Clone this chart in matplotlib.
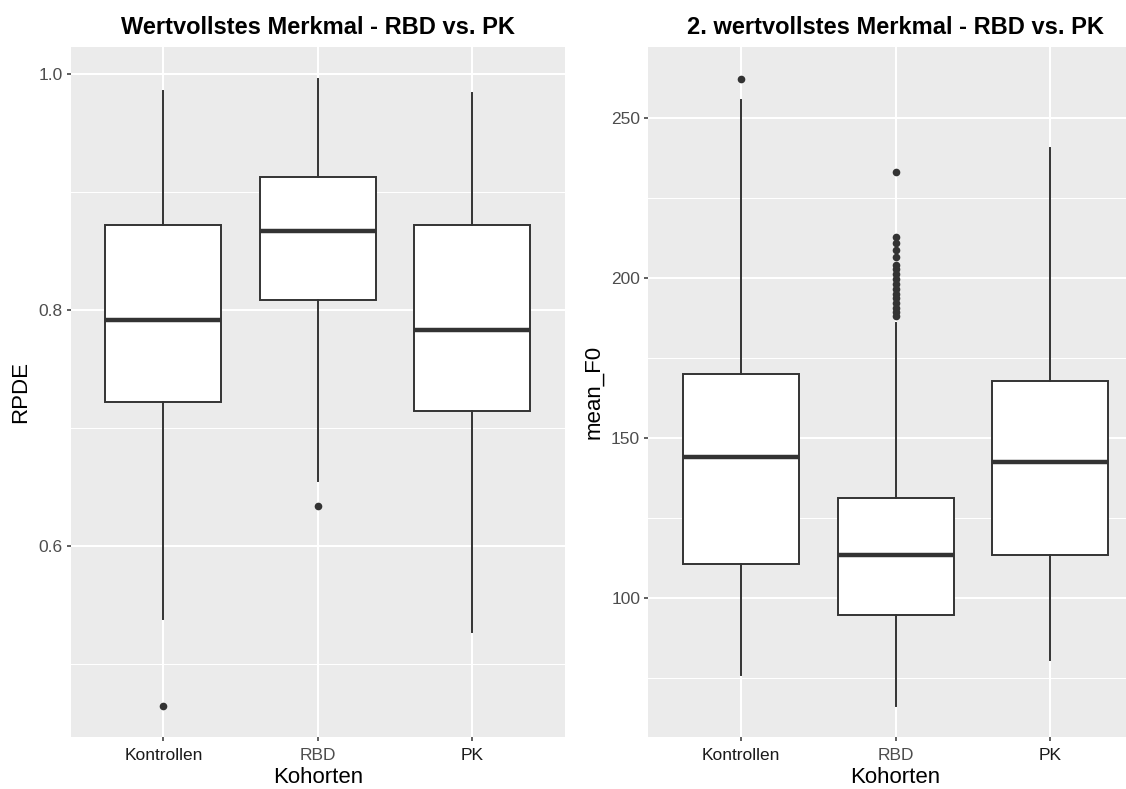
import matplotlib
matplotlib.use("Agg")
import matplotlib.pyplot as plt
from matplotlib.ticker import MultipleLocator

plt.rcParams["font.family"] = ["Liberation Sans", "DejaVu Sans"]

kohorten = ["Kontrollen", "RBD", "PK"]
kohorten_farbe = ["#1A1A1A", "#4D4D4D", "#1A1A1A"]

# RPDE je Kohorte (Boxplot-Kennwerte)
rpde_whislo = [0.538, 0.655, 0.527]
rpde_q1 = [0.722, 0.809, 0.715]
rpde_med = [0.792, 0.867, 0.783]
rpde_q3 = [0.872, 0.913, 0.872]
rpde_whishi = [0.986, 0.996, 0.984]
rpde_fliers = [[0.465], [0.634], []]

# mean_F0 je Kohorte
f0_whislo = [75.8, 66.2, 80.5]
f0_q1 = [110.5, 94.7, 113.4]
f0_med = [144.0, 113.3, 142.4]
f0_q3 = [169.9, 131.3, 167.7]
f0_whishi = [255.6, 185.8, 240.7]
f0_fliers = [[262.3],
             [233.0, 212.9, 210.8, 208.6, 206.5, 204.2, 202.8, 201.3, 199.8,
              198.2, 196.6, 195.1, 193.6, 192.2, 190.7, 189.3, 188.0],
             []]

dark = "#333333"


def panel(ax, title, ylabel, lo, q1, med, q3, hi, fliers, major, minor):
    stats = []
    for k, a, b, c, d, e, f in zip(kohorten, lo, q1, med, q3, hi, fliers):
        stats.append(dict(label=k, whislo=a, q1=b, med=c, q3=d, whishi=e, fliers=f))
    ax.bxp(stats, positions=[1, 2, 3], widths=0.75, showcaps=False, patch_artist=True,
           boxprops=dict(facecolor="white", edgecolor=dark, linewidth=1.4),
           whiskerprops=dict(color=dark, linewidth=1.4),
           medianprops=dict(color=dark, linewidth=3.2, solid_capstyle="butt"),
           flierprops=dict(marker="o", markersize=5.5, markerfacecolor=dark,
                           markeredgecolor="none"))

    # ggplot-artige Achsengrenzen: 5 % Luft um den Datenbereich
    vals = lo + hi + [v for f in fliers for v in f]
    span = max(vals) - min(vals)
    ax.set_ylim(min(vals) - 0.05 * span, max(vals) + 0.05 * span)
    ax.set_xlim(0.4, 3.6)

    ax.set_facecolor("#EBEBEB")
    for s in ax.spines.values():
        s.set_visible(False)
    ax.yaxis.set_major_locator(MultipleLocator(major))
    ax.yaxis.set_minor_locator(MultipleLocator(minor))
    ax.set_axisbelow(True)
    ax.grid(which="major", color="white", linewidth=1.5)
    ax.grid(which="minor", axis="y", color="white", linewidth=0.75)
    ax.tick_params(which="major", length=3, width=1.1, color=dark,
                   labelcolor="#4D4D4D", labelsize=12.5, pad=3)
    ax.tick_params(axis="x", pad=5)
    ax.tick_params(which="minor", length=0)
    for lab, c in zip(ax.get_xticklabels(), kohorten_farbe):
        lab.set_color(c)

    ax.set_title(title, fontsize=17, fontweight="bold", pad=10)
    ax.set_ylabel(ylabel, fontsize=16, labelpad=5)
    ax.set_xlabel("Kohorten", fontsize=16, labelpad=3)


fig = plt.figure(figsize=(11.26, 7.89), dpi=100)
ax1 = fig.add_axes([0.0628, 0.0659, 0.439, 0.8739])
ax2 = fig.add_axes([0.5759, 0.0659, 0.439, 0.8739])

panel(ax1, "Wertvollstes Merkmal - RBD vs. PK", "RPDE",
      rpde_whislo, rpde_q1, rpde_med, rpde_q3, rpde_whishi, rpde_fliers, 0.2, 0.1)
ax1.yaxis.set_major_formatter(lambda v, p: f"{v:.1f}")
panel(ax2, "2. wertvollstes Merkmal - RBD vs. PK", "mean_F0",
      f0_whislo, f0_q1, f0_med, f0_q3, f0_whishi, f0_fliers, 50, 25)

fig.savefig("out.png", dpi=100)
